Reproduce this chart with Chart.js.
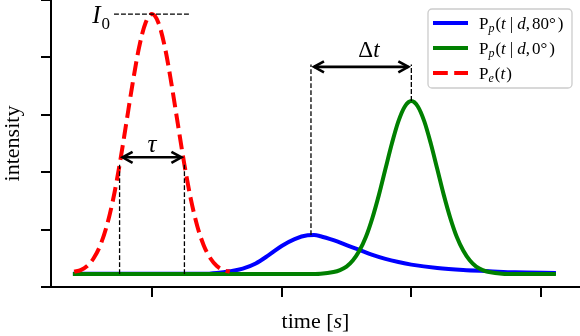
<!DOCTYPE html>
<html>
<head>
<meta charset="utf-8">
<script src="https://cdn.jsdelivr.net/npm/chart.js@4.4.1/dist/chart.umd.min.js"></script>
<style>
html,body{margin:0;padding:0;background:#ffffff;}
#wrap{width:580px;height:336px;}
</style>
</head>
<body>
<div id="wrap"><canvas id="c" width="580" height="336"></canvas></div>
<script>
// ---- tick positions (labels hidden in the original) ----
const xTicks = [1, 2, 3, 4];
const yTicks = [0, 0.2, 0.4, 0.6, 0.8, 1.0];

// ---- series ----
// P_e(t): emitted pulse (red dashed)
const redX = [0.40, 0.45, 0.50, 0.55, 0.60, 0.65, 0.70, 0.75, 0.80, 0.85, 0.90, 0.95, 1.00,
              1.05, 1.10, 1.15, 1.20, 1.25, 1.30, 1.35, 1.40, 1.45, 1.50, 1.55, 1.60];
const redY = [0.053, 0.059, 0.073, 0.100, 0.144, 0.211, 0.305, 0.426, 0.566, 0.708, 0.834, 0.920, 0.951,
              0.920, 0.834, 0.708, 0.566, 0.426, 0.305, 0.211, 0.144, 0.100, 0.073, 0.059, 0.053];

// P_p(t|d,80°): blue
const blueX = [0.39, 1.00, 1.40, 1.50, 1.60, 1.70, 1.80, 1.90, 2.00, 2.10, 2.20, 2.25, 2.30,
               2.40, 2.50, 2.60, 2.70, 2.80, 2.90, 3.00, 3.20, 3.40, 3.60, 3.80, 4.115];
const blueY = [0.046, 0.046, 0.046, 0.049, 0.055, 0.064, 0.082, 0.111, 0.143, 0.167, 0.180, 0.181, 0.177,
               0.163, 0.146, 0.129, 0.112, 0.098, 0.087, 0.078, 0.066, 0.059, 0.055, 0.051, 0.049];

// P_p(t|d,0°): green
const greenX = [0.39, 1.00, 1.60, 2.00, 2.20, 2.30, 2.40, 2.45, 2.50, 2.55, 2.60, 2.65, 2.70, 2.75, 2.80,
                2.85, 2.90, 2.95, 3.00, 3.05, 3.10, 3.15, 3.20, 3.25, 3.30, 3.35, 3.40, 3.45, 3.50,
                3.55, 3.60, 3.70, 3.80, 4.115];
const greenY = [0.045, 0.045, 0.045, 0.045, 0.045, 0.046, 0.052, 0.059, 0.071, 0.093, 0.127, 0.175, 0.241, 0.321, 0.411,
                0.500, 0.577, 0.629, 0.648, 0.629, 0.577, 0.500, 0.411, 0.321, 0.241, 0.175, 0.127, 0.093, 0.071,
                0.059, 0.052, 0.046, 0.045, 0.045];

// ---- annotation values (data units) ----
const baseLevel = 0.045;
const i0Level = 0.951;          // peak of P_e
const i0Span = [0.707, 1.293];
const tauX = [0.75, 1.25];
const tauTop = 0.426;
const tauArrowY = 0.452;
const tauLabel = [1.0, 0.470];
const dtX = [2.226, 3.0];
const dtPeaks = [0.181, 0.648];
const dtTop = 0.775;
const dtArrowY = 0.767;
const dtLabel = [2.673, 0.800];

const seriesNames = ['P_p(t|d,80°)', 'P_p(t|d,0°)', 'P_e(t)'];
const seriesColors = ['#0000ff', '#008000', '#ff0000'];

const SERIF = '"Liberation Serif", "DejaVu Serif", serif';

function pts(xs, ys){ return xs.map((v,i)=>({x:v, y:ys[i]})); }

function fontStr(p, base){
  const size = p.s || base;
  return (p.i ? 'italic ' : '') + size + 'px ' + SERIF;
}
function rich(ctx, parts, x, y, align, base){
  let w = 0;
  for (const p of parts){ ctx.font = fontStr(p, base); w += ctx.measureText(p.t).width + (p.g||0) + (p.b||0); }
  let cx = align === 'center' ? x - w/2 : (align === 'right' ? x - w : x);
  ctx.textAlign = 'left';
  ctx.textBaseline = 'alphabetic';
  for (const p of parts){
    ctx.font = fontStr(p, base);
    cx += (p.b||0);
    ctx.fillText(p.t, cx, y + (p.dy||0));
    cx += ctx.measureText(p.t).width + (p.g||0);
  }
}

const legendParts = [
  [{t:'P'},{t:'p',i:1,s:12,dy:3,g:1},{t:'('},{t:'t',i:1},{t:'|',b:4,g:4},{t:'d',i:1},{t:','},{t:'80',b:2},{t:'°'},{t:')',b:2}],
  [{t:'P'},{t:'p',i:1,s:12,dy:3,g:1},{t:'('},{t:'t',i:1},{t:'|',b:4,g:4},{t:'d',i:1},{t:','},{t:'0',b:2},{t:'°'},{t:')',b:2}],
  [{t:'P'},{t:'e',i:1,s:12,dy:3,g:1},{t:'('},{t:'t',i:1},{t:')',b:1}]
];

function line(ctx, x1, y1, x2, y2){ ctx.beginPath(); ctx.moveTo(x1,y1); ctx.lineTo(x2,y2); ctx.stroke(); }
function arrow(ctx, x1, x2, y){
  const hl = 10, hw = 5.5;
  ctx.beginPath(); ctx.moveTo(x1, y); ctx.lineTo(x2, y); ctx.stroke();
  ctx.beginPath(); ctx.moveTo(x1+hl, y-hw); ctx.lineTo(x1, y); ctx.lineTo(x1+hl, y+hw); ctx.stroke();
  ctx.beginPath(); ctx.moveTo(x2-hl, y-hw); ctx.lineTo(x2, y); ctx.lineTo(x2-hl, y+hw); ctx.stroke();
}

const annotPlugin = {
  id: 'annot',
  afterDatasetsDraw(chart){
    const ctx = chart.ctx, xs = chart.scales.x, ys = chart.scales.y;
    const X = v => xs.getPixelForValue(v), Y = v => ys.getPixelForValue(v);
    ctx.save();
    ctx.strokeStyle = '#000'; ctx.fillStyle = '#000';
    ctx.lineWidth = 1.3; ctx.setLineDash([4.9, 2.1]);
    line(ctx, X(i0Span[0]), Y(i0Level), X(i0Span[1]), Y(i0Level));
    tauX.forEach(v => line(ctx, X(v), Y(baseLevel), X(v), Y(tauTop)));
    dtX.forEach((v,i) => line(ctx, X(v), Y(dtPeaks[i]), X(v), Y(dtTop)));
    ctx.setLineDash([]);
    ctx.lineWidth = 2.6; ctx.lineJoin = 'miter';
    arrow(ctx, X(tauX[0])+3, X(tauX[1])-3, Y(tauArrowY));
    arrow(ctx, X(dtX[0])+3, X(dtX[1])-3, Y(dtArrowY));
    // labels
    rich(ctx, [{t:'I', i:1, g:1},{t:'0', s:17, dy:6}], X(i0Span[0]) - 4, Y(i0Level) + 8.5, 'right', 25);
    rich(ctx, [{t:'τ', i:1}], X(tauLabel[0]), Y(tauLabel[1]), 'center', 25);
    rich(ctx, [{t:'Δ'},{t:'t', i:1}], X(dtLabel[0]), Y(dtLabel[1]), 'center', 23);
    // x axis title with italic s
    const ca = chart.chartArea;
    rich(ctx, [{t:'time ['},{t:'s', i:1},{t:']'}], (ca.left + ca.right)/2, 328, 'center', 22);
    // legend
    const w = 144, h = 79;
    const lx = ca.right - 8 - w, ly = ca.top + 9;
    ctx.beginPath();
    ctx.roundRect(lx, ly, w, h, 4);
    ctx.fillStyle = 'rgba(255,255,255,0.85)';
    ctx.fill();
    ctx.strokeStyle = '#cccccc'; ctx.lineWidth = 1.3; ctx.stroke();
    chart.data.datasets.forEach((ds, i) => {
      const ry = ly + 14 + i*25;
      ctx.strokeStyle = ds.borderColor; ctx.lineWidth = 4;
      ctx.setLineDash(ds.borderDash || []);
      line(ctx, lx + 5, ry, lx + 40, ry);
      ctx.setLineDash([]);
      ctx.fillStyle = '#000';
      rich(ctx, legendParts[i], lx + 51, ry + 5.5, 'left', 17);
    });
    ctx.restore();
  }
};

const ds = (label, xs, ys, color, order, dash) => ({
  label, data: pts(xs, ys), borderColor: color, backgroundColor: color,
  borderWidth: 4, pointRadius: 0, fill: false, order,
  cubicInterpolationMode: 'monotone', borderDash: dash || [], borderCapStyle: 'butt'
});

new Chart(document.getElementById('c'), {
  type: 'line',
  data: {
    datasets: [
      ds(seriesNames[0], blueX, blueY, seriesColors[0], 3),
      ds(seriesNames[1], greenX, greenY, seriesColors[1], 2),
      ds(seriesNames[2], redX, redY, seriesColors[2], 1, [14.8, 6.4])
    ]
  },
  options: {
    responsive: false,
    devicePixelRatio: 1,
    animation: false,
    layout: { padding: 0 },
    plugins: { legend: { display: false }, tooltip: { enabled: false } },
    scales: {
      x: {
        type: 'linear', min: 0.2211, max: 4.3007,
        afterBuildTicks: s => { s.ticks = xTicks.map(v => ({value: v})); },
        afterFit: s => { s.height = 49; },
        ticks: { display: false },
        grid: { drawOnChartArea: false, drawTicks: true, tickLength: 10, lineWidth: 2, color: '#000' },
        border: { display: true, color: '#000', width: 2 },
        title: { display: false }
      },
      y: {
        type: 'linear', min: 0, max: 1,
        afterBuildTicks: s => { s.ticks = yTicks.map(v => ({value: v})); },
        afterFit: s => { s.width = 51; },
        ticks: { display: false },
        grid: { drawOnChartArea: false, drawTicks: true, tickLength: 10, lineWidth: 2, color: '#000' },
        border: { display: true, color: '#000', width: 2 },
        title: { display: true, text: 'intensity', color: '#000',
                 font: { family: SERIF, size: 22 }, padding: { top: 0, bottom: 0 } }
      }
    }
  },
  plugins: [annotPlugin]
});
</script>
</body>
</html>
